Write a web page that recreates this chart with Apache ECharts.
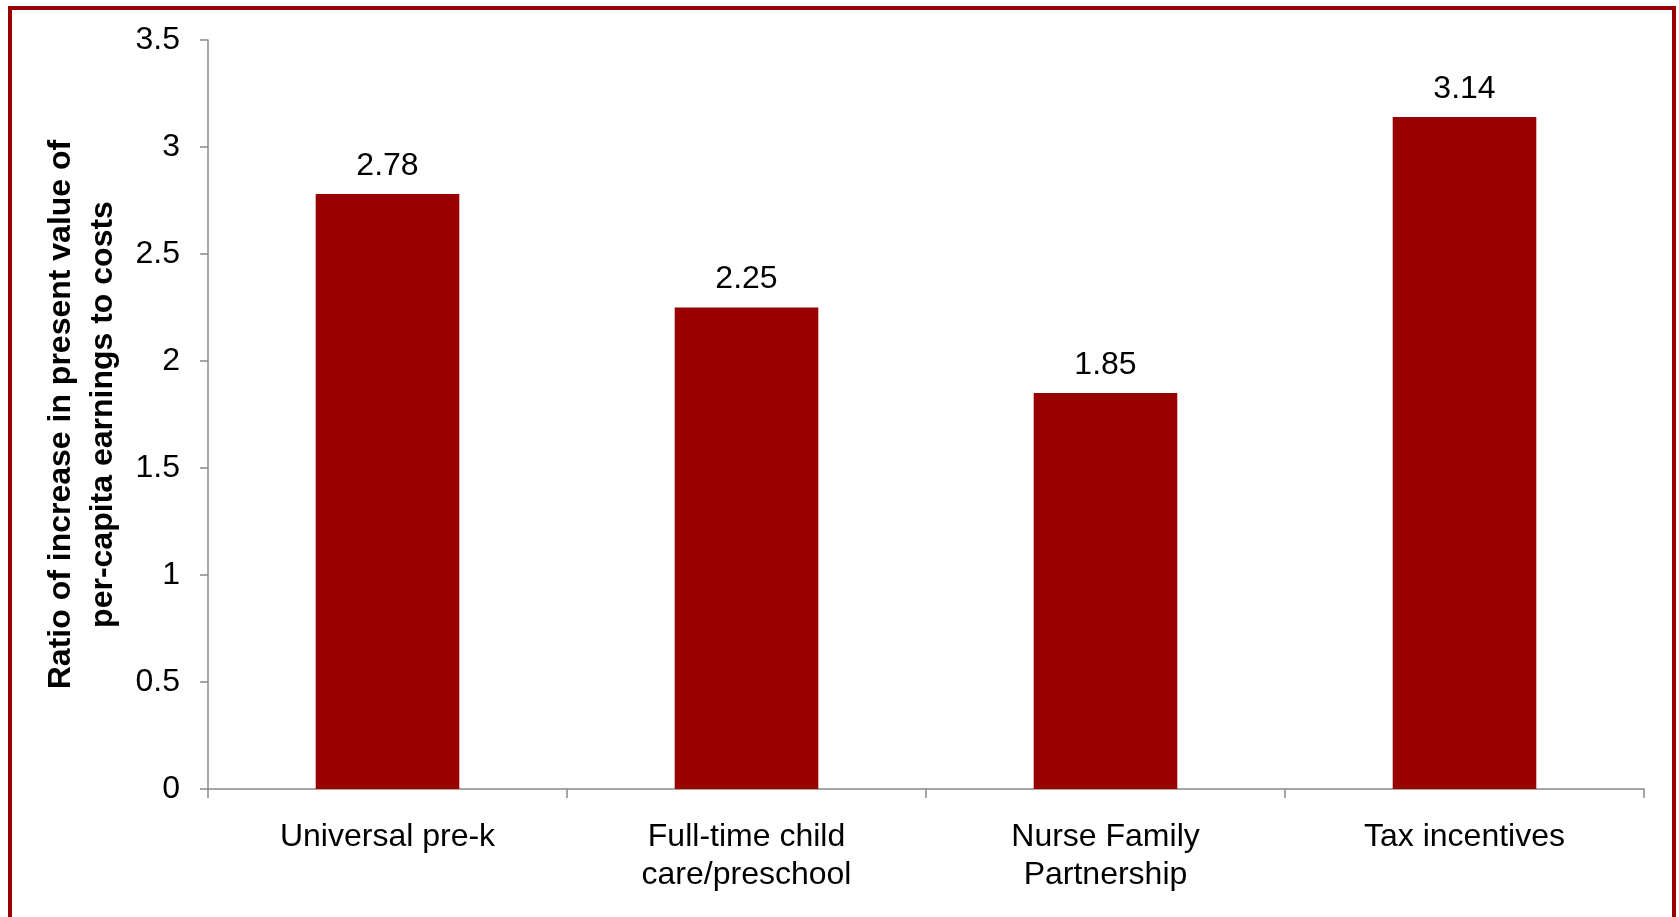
<!DOCTYPE html>
<html>
<head>
<meta charset="utf-8">
<script src="https://cdn.jsdelivr.net/npm/echarts@6/dist/echarts.min.js"></script>
<style>
html,body{margin:0;padding:0;background:#fff;}
#chart{width:1679px;height:917px;}
</style>
</head>
<body>
<div id="chart"></div>
<script>
const categories = ["Universal pre-k", "Full-time child\ncare/preschool", "Nurse Family\nPartnership", "Tax incentives"];
const values = [2.78, 2.25, 1.85, 3.14];
const yTicks = [0, 0.5, 1, 1.5, 2, 2.5, 3, 3.5];
const yTitle = "Ratio of increase in present value of\nper-capita earnings to costs";

const chart = echarts.init(document.getElementById('chart'));
const font = "'Liberation Sans', Arial, sans-serif";
chart.setOption({
  animation: false,
  backgroundColor: '#ffffff',
  grid: {left: 208, right: 35, top: 40, bottom: 128, containLabel: false},
  xAxis: {
    type: 'category',
    data: categories,
    axisLine: {lineStyle: {color: '#898989', width: 1.5}},
    axisTick: {show: true, length: 9, alignWithLabel: false, lineStyle: {color: '#898989', width: 1.5}},
    axisLabel: {color: '#000', fontFamily: font, fontSize: 32, lineHeight: 38, margin: 29, interval: 0}
  },
  yAxis: {
    type: 'value',
    min: yTicks[0],
    max: yTicks[yTicks.length - 1],
    interval: 0.5,
    splitLine: {show: false},
    axisLine: {show: true, lineStyle: {color: '#898989', width: 1.5}},
    axisTick: {show: true, length: 8, lineStyle: {color: '#898989', width: 1.5}},
    axisLabel: {color: '#000', fontFamily: font, fontSize: 32, margin: 28,
      formatter: v => String(v)},
    name: yTitle,
    nameLocation: 'middle',
    nameRotate: 90,
    nameGap: 81,
    nameTextStyle: {color: '#000', fontFamily: font, fontSize: 32, fontWeight: 'bold', lineHeight: 42, align: 'center'}
  },
  series: [{
    type: 'bar',
    data: values,
    barWidth: '40%',
    itemStyle: {color: '#990000'},
    label: {show: true, position: 'top', distance: 12, color: '#000', fontFamily: font, fontSize: 32,
      formatter: p => p.value.toFixed(2)}
  }],
  graphic: [{
    type: 'rect',
    shape: {x: 10, y: 8, width: 1664, height: 1000},
    style: {fill: 'none', stroke: '#990000', lineWidth: 4},
    silent: true
  }]
});
</script>
</body>
</html>
